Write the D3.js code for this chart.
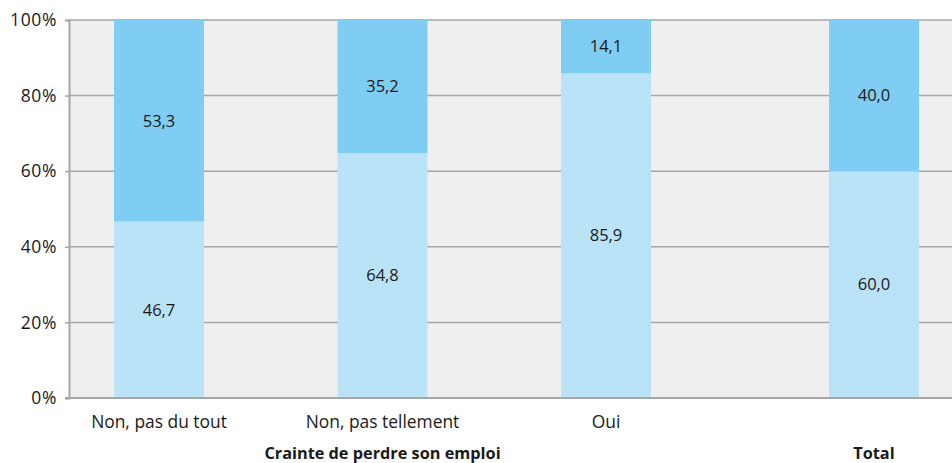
<!DOCTYPE html>
<html>
<head>
<meta charset="utf-8">
<script src="https://cdn.jsdelivr.net/npm/d3@7"></script>
<style>
  html, body { margin: 0; padding: 0; background: #ffffff; }
  svg { display: block; font-family: "Open Sans", "Noto Sans", sans-serif; }
</style>
</head>
<body>
<svg id="chart" width="952" height="463"></svg>
<script>
// Crainte de perdre son emploi: share of each answer, stacked to 100%
const categories = ["Non, pas du tout", "Non, pas tellement", "Oui"];
const totalCategory = ["Total"];
const lowerValues = [46.7, 64.8, 85.9];
const upperValues = [53.3, 35.2, 14.1];
const totalLower = [60.0];
const totalUpper = [40.0];
const yTicks = [0, 20, 40, 60, 80, 100];
const groupLabels = ["Crainte de perdre son emploi", "Total"];

const svg = d3.select("#chart");
const W = 952, H = 463;
const margin = { top: 20, right: 0, bottom: 65, left: 69 };
const plotBottom = H - margin.bottom;

const colLower = "#bbe3f8";
const colUpper = "#80cdf3";
const barW = 90;

const y = d3.scaleLinear().domain([0, 100]).range([plotBottom, margin.top]);

// Centers of the bars: three answer categories, then the overall total
const xGroup = d3.scalePoint().domain(categories).range([159, 606]);
const xTotal = d3.scalePoint().domain(totalCategory).range([829, 919]);

// plot background
svg.append("rect")
  .attr("x", margin.left).attr("y", margin.top)
  .attr("width", W - margin.left).attr("height", plotBottom - margin.top)
  .attr("fill", "#efefef");

// horizontal gridlines
svg.append("g").selectAll("line")
  .data(yTicks.filter(t => t > 0))
  .join("line")
  .attr("x1", margin.left).attr("x2", W)
  .attr("y1", d => y(d)).attr("y2", d => y(d))
  .attr("stroke", "#a6a6a6").attr("stroke-width", 1.5);

// bars
const rows = categories.map((c, i) => ({ x: xGroup(c), lo: lowerValues[i], up: upperValues[i] }))
  .concat(totalCategory.map((c, i) => ({ x: xTotal(c), lo: totalLower[i], up: totalUpper[i] })));

const bars = svg.append("g");
bars.selectAll("rect.lo").data(rows).join("rect")
  .attr("class", "lo")
  .attr("x", d => d.x - barW / 2).attr("width", barW)
  .attr("y", d => y(d.lo)).attr("height", d => y(0) - y(d.lo))
  .attr("fill", colLower);
bars.selectAll("rect.up").data(rows).join("rect")
  .attr("class", "up")
  .attr("x", d => d.x - barW / 2).attr("width", barW)
  .attr("y", d => y(d.lo + d.up)).attr("height", d => y(d.lo) - y(d.lo + d.up))
  .attr("fill", colUpper);

// value labels
const fmt = v => v.toFixed(1).replace(".", ",");
const labels = svg.append("g").attr("font-size", 16.5).attr("fill", "#1a1a1a").attr("text-anchor", "middle");
labels.selectAll("text.lo").data(rows).join("text")
  .attr("class", "lo")
  .attr("x", d => d.x).attr("y", d => y(d.lo / 2)).attr("dy", "0.35em")
  .text(d => fmt(d.lo));
labels.selectAll("text.up").data(rows).join("text")
  .attr("class", "up")
  .attr("x", d => d.x).attr("y", d => y(d.lo + d.up / 2)).attr("dy", "0.35em")
  .text(d => fmt(d.up));

// y axis
const yAxis = d3.axisLeft(y).tickValues(yTicks).tickFormat(d => d + "%").tickSize(4).tickPadding(8);
const gy = svg.append("g").attr("transform", `translate(${margin.left},0)`).call(yAxis);
gy.select(".domain").attr("stroke", "#a6a6a6").attr("stroke-width", 2);
gy.selectAll(".tick line").attr("stroke", "#a6a6a6").attr("stroke-width", 1.5);
gy.selectAll(".tick text").attr("font-size", 17.5).attr("fill", "#1a1a1a")
  .attr("letter-spacing", 0.6)
  .attr("font-family", "'Open Sans', 'Noto Sans', sans-serif");

// x baseline
svg.append("line")
  .attr("x1", margin.left - 4).attr("x2", W)
  .attr("y1", y(0)).attr("y2", y(0))
  .attr("stroke", "#a6a6a6").attr("stroke-width", 2);

// category labels
svg.append("g").attr("font-size", 17.4).attr("fill", "#1a1a1a").attr("text-anchor", "middle")
  .selectAll("text").data(categories).join("text")
  .attr("x", d => xGroup(d)).attr("y", plotBottom + 30)
  .text(d => d);

// group labels
const groupCenters = [xGroup(categories[1]), xTotal(totalCategory[0])];
svg.append("g").attr("font-size", 16.3).attr("font-weight", "bold").attr("fill", "#1a1a1a").attr("text-anchor", "middle")
  .selectAll("text").data(groupLabels).join("text")
  .attr("x", (d, i) => groupCenters[i]).attr("y", plotBottom + 61)
  .text(d => d);
</script>
</body>
</html>
